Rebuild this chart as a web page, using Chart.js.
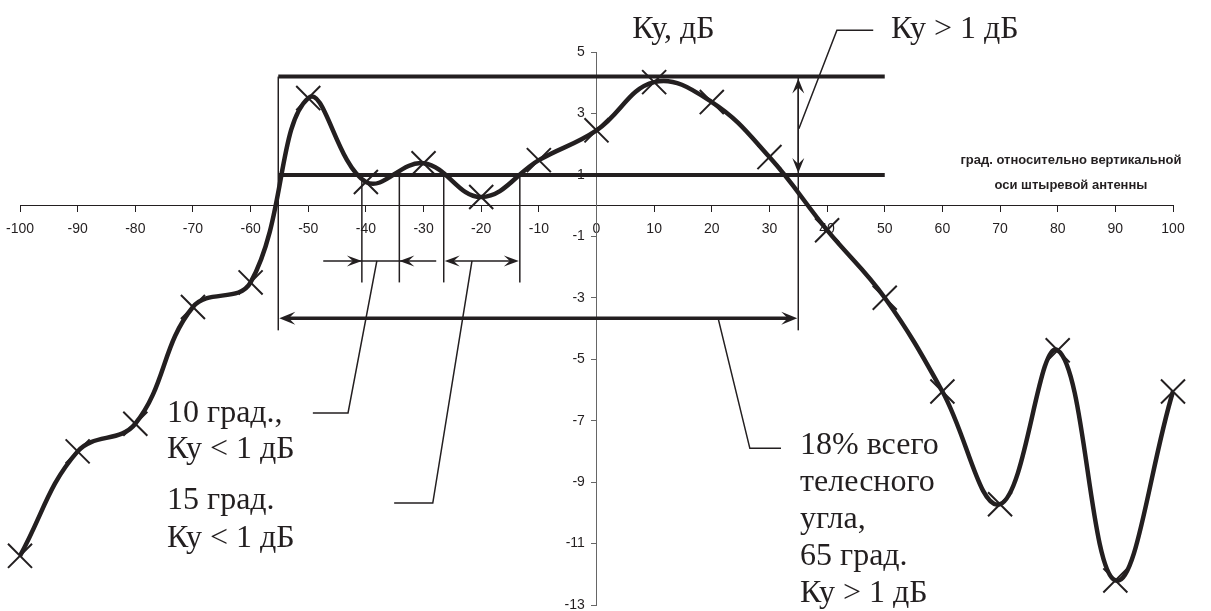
<!DOCTYPE html>
<html>
<head>
<meta charset="utf-8">
<script src="https://cdn.jsdelivr.net/npm/chart.js@4.4.1/dist/chart.umd.min.js"></script>
<style>
html, body { margin: 0; padding: 0; background: #fff; }
</style>
</head>
<body>
<canvas id="gain" width="1211" height="611"></canvas>
<script>
// angle from the vertical axis of the whip antenna, degrees
var angles = [-100, -90, -80, -70, -60, -50, -40, -30, -20, -10, 0, 10, 20, 30, 40, 50, 60, 70, 80, 90, 100];
// gain, dB
var gainDb = [-11.4, -8.0, -7.1, -3.3, -2.5, 3.5, 0.77, 1.38, 0.28, 1.48, 2.45, 4.02, 3.37, 1.58, -0.8, -3.0, -6.05, -9.72, -4.71, -12.2, -6.05];

var xTickValues = [-100, -90, -80, -70, -60, -50, -40, -30, -20, -10, 0, 10, 20, 30, 40, 50, 60, 70, 80, 90, 100];
var yTickValues = [-13, -11, -9, -7, -5, -3, -1, 1, 3, 5];

// annotation values (degrees / dB)
var bandLevels = [4.2, 1];          // two thick horizontal levels
var bandSpan = [-55.2, 50];
var sectorEdges = [-55.2, 35];      // 65 град. sector
var sectorArrowDb = -3.67;
var sectorLineBottom = -4.06;
var dipEdges = [-40.7, -34.2, -26.5, -13.3];
var dipBottom = -2.5;
var dipArrowDb = -1.8;
var dipArrowOuter = [-47.4, -27.8];

var ink = '#231f20';
var serif = '32px "Liberation Serif", "Times New Roman", serif';

function head(ctx, x, y, ang, len, wid) {
  ctx.save();
  ctx.translate(x, y);
  ctx.rotate(ang);
  ctx.beginPath();
  ctx.moveTo(0, 0);
  ctx.lineTo(-len, -wid / 2);
  ctx.lineTo(-len * 0.6, 0);
  ctx.lineTo(-len, wid / 2);
  ctx.closePath();
  ctx.fill();
  ctx.restore();
}

var overlay = {
  id: 'overlay',
  beforeDatasetsDraw: function (chart) {
    var ctx = chart.ctx, xs = chart.scales.x, ys = chart.scales.y;
    var px = function (v) { return xs.getPixelForValue(v); };
    var py = function (v) { return ys.getPixelForValue(v); };
    ctx.save();
    ctx.strokeStyle = ink;
    ctx.fillStyle = ink;

    // thick level lines
    ctx.lineWidth = 4;
    bandLevels.forEach(function (lv) {
      ctx.beginPath();
      ctx.moveTo(px(bandSpan[0]), py(lv));
      ctx.lineTo(px(bandSpan[1]), py(lv));
      ctx.stroke();
    });

    // sector edges
    ctx.lineWidth = 1.5;
    sectorEdges.forEach(function (a) {
      ctx.beginPath();
      ctx.moveTo(px(a), py(bandLevels[0]));
      ctx.lineTo(px(a), py(sectorLineBottom));
      ctx.stroke();
    });

    // sector arrow
    var sx1 = px(sectorEdges[0]), sx2 = px(sectorEdges[1]), sy = py(sectorArrowDb);
    ctx.lineWidth = 3.5;
    ctx.beginPath();
    ctx.moveTo(sx1 + 8, sy);
    ctx.lineTo(sx2 - 8, sy);
    ctx.stroke();
    head(ctx, sx1 + 1, sy, Math.PI, 16, 13);
    head(ctx, sx2 - 1, sy, 0, 16, 13);

    // vertical arrow between levels
    var vx = px(sectorEdges[1]);
    ctx.lineWidth = 1.5;
    ctx.beginPath();
    ctx.moveTo(vx, py(bandLevels[0]) + 6);
    ctx.lineTo(vx, py(bandLevels[1]) - 6);
    ctx.stroke();
    head(ctx, vx, py(bandLevels[0]) + 2, -Math.PI / 2, 15, 12);
    head(ctx, vx, py(bandLevels[1]) - 2, Math.PI / 2, 15, 12);

    // dip markers
    dipEdges.forEach(function (a) {
      ctx.beginPath();
      ctx.moveTo(px(a), py(bandLevels[1]));
      ctx.lineTo(px(a), py(dipBottom));
      ctx.stroke();
    });
    var dy = py(dipArrowDb);
    ctx.beginPath();
    ctx.moveTo(px(dipArrowOuter[0]), dy);
    ctx.lineTo(px(dipArrowOuter[1]), dy);
    ctx.moveTo(px(dipEdges[2]) + 6, dy);
    ctx.lineTo(px(dipEdges[3]) - 6, dy);
    ctx.stroke();
    head(ctx, px(dipEdges[0]), dy, 0, 15, 11);
    head(ctx, px(dipEdges[1]), dy, Math.PI, 15, 11);
    head(ctx, px(dipEdges[2]) + 1, dy, Math.PI, 15, 11);
    head(ctx, px(dipEdges[3]) - 1, dy, 0, 15, 11);

    // leader lines
    var leaders = [
      [[-38.1, -1.8], [-43.1, -6.75], [-49.2, -6.75]],
      [[-21.6, -1.8], [-28.4, -9.68], [-35.1, -9.68]],
      [[21.1, -3.67], [26.6, -7.9], [32.0, -7.9]],
      [[35.1, 2.5], [41.7, 5.71], [48.0, 5.71]]
    ];
    ctx.lineWidth = 1.5;
    leaders.forEach(function (l) {
      ctx.beginPath();
      ctx.moveTo(px(l[0][0]), py(l[0][1]));
      ctx.lineTo(px(l[1][0]), py(l[1][1]));
      ctx.lineTo(px(l[2][0]), py(l[2][1]));
      ctx.stroke();
    });
    ctx.restore();
  },
  afterDatasetsDraw: function (chart) {
    var ctx = chart.ctx, xs = chart.scales.x, ys = chart.scales.y;
    var px = function (v) { return xs.getPixelForValue(v); };
    var py = function (v) { return ys.getPixelForValue(v); };
    ctx.save();
    ctx.fillStyle = ink;
    ctx.font = serif;
    ctx.textAlign = 'left';
    ctx.textBaseline = 'alphabetic';
    var notes = [
      ['Ку, дБ', 6.2, 5.45],
      ['Ку > 1 дБ', 51.1, 5.45],
      ['10 град.,', -74.5, -7.04],
      ['Ку < 1 дБ', -74.5, -8.2],
      ['15 град.', -74.5, -9.87],
      ['Ку < 1 дБ', -74.5, -11.1],
      ['18% всего', 35.3, -8.1],
      ['телесного', 35.3, -9.3],
      ['угла,', 35.3, -10.5],
      ['65 град.', 35.3, -11.7],
      ['Ку > 1 дБ', 35.3, -12.9]
    ];
    notes.forEach(function (n) {
      ctx.fillText(n[0], px(n[1]), py(n[2]));
    });
    ctx.font = 'bold 13px "Liberation Sans", Arial, sans-serif';
    ctx.textAlign = 'center';
    ctx.textBaseline = 'middle';
    ctx.fillText('град. относительно вертикальной', px(82.3), py(1.48));
    ctx.fillText('оси штыревой антенны', px(82.3), py(0.67));
    ctx.restore();
  }
};

var tickFont = { family: '"Liberation Sans", Arial, sans-serif', size: 14 };

function noSpace(s) {
  s.paddingTop = 0; s.paddingBottom = 0; s.paddingLeft = 0; s.paddingRight = 0;
}

new Chart(document.getElementById('gain').getContext('2d'), {
  type: 'line',
  data: {
    datasets: [{
      data: angles.map(function (a, i) { return { x: a, y: gainDb[i] }; }),
      borderColor: ink,
      borderWidth: 4.5,
      tension: 0.4,
      fill: false,
      clip: false,
      pointStyle: 'crossRot',
      pointRadius: 17,
      pointBorderWidth: 2,
      pointBorderColor: ink,
      pointBackgroundColor: ink
    }]
  },
  options: {
    responsive: false,
    animation: false,
    layout: { autoPadding: false, padding: { left: 20, right: 38, top: 52, bottom: 6 } },
    plugins: { legend: { display: false }, tooltip: { enabled: false } },
    scales: {
      x: {
        type: 'linear',
        min: -100,
        max: 100,
        position: { y: 0 },
        afterBuildTicks: function (s) { s.ticks = xTickValues.map(function (v) { return { value: v }; }); },
        afterFit: function (s) { s.height = 0; noSpace(s); },
        ticks: { autoSkip: false, maxRotation: 0, color: ink, font: tickFont, padding: 9 },
        grid: { drawOnChartArea: false, tickLength: 6, color: ink },
        border: { color: ink, width: 1 }
      },
      y: {
        min: -13,
        max: 5,
        position: { x: 0 },
        afterBuildTicks: function (s) { s.ticks = yTickValues.map(function (v) { return { value: v }; }); },
        afterFit: function (s) { s.width = 0; noSpace(s); },
        ticks: {
          color: ink,
          font: tickFont,
          padding: 6,
          callback: function (v) { return v + '   '; }
        },
        grid: { drawOnChartArea: false, tickLength: 5, color: '#666' },
        border: { color: '#666', width: 1 }
      }
    }
  },
  plugins: [overlay]
});
</script>
</body>
</html>
